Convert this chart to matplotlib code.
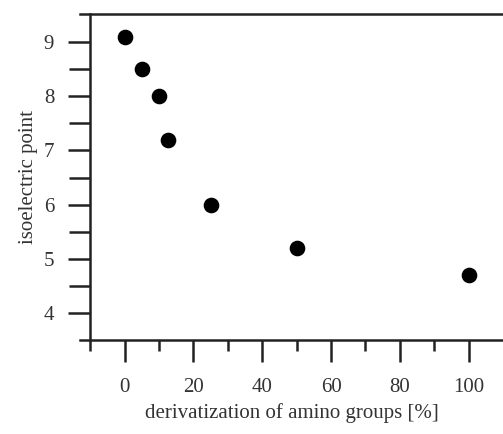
import numpy as np
import matplotlib.pyplot as plt
from matplotlib.ticker import MultipleLocator

plt.rcParams['font.family'] = ['Liberation Serif', 'DejaVu Serif']

derivatization = [0, 5, 10, 12.5, 25, 50, 100]
pi_values = [9.1, 8.5, 8.0, 7.2, 6.0, 5.2, 4.7]

fig = plt.figure(figsize=(5.03, 4.34), dpi=100)
ax = fig.add_axes([80 / 503, 94 / 434, 423 / 503, 326 / 434])

ax.scatter(derivatization, pi_values, s=105, color='black', zorder=3)

ax.set_xlim(-13, 110)
ax.set_ylim(3.5, 9.52)
ax.spines['left'].set_position(('data', -10))
ax.spines['right'].set_visible(False)
for s in ['left', 'top', 'bottom']:
    ax.spines[s].set_linewidth(1.8)
    ax.spines[s].set_color('#222222')

ax.set_yticks([4, 5, 6, 7, 8, 9])
ax.set_xticks([0, 20, 40, 60, 80, 100])
ax.set_yticks([4.5, 5.5, 6.5, 7.5, 8.5], minor=True)
ax.set_xticks([-10, 10, 30, 50, 70, 90], minor=True)

ax.tick_params(axis='x', which='major', direction='out', length=16, width=1.8,
               pad=11, labelsize=15, colors='#222222', labelcolor='#333333')
ax.tick_params(axis='x', which='minor', direction='out', length=8, width=1.8,
               colors='#222222')
ax.tick_params(axis='y', which='major', direction='out', length=16, width=1.8,
               pad=10, labelsize=15, colors='#222222', labelcolor='#333333')
ax.tick_params(axis='y', which='minor', direction='out', length=15, width=1.8,
               colors='#222222')

ax.set_xlabel('derivatization of amino groups [%]', fontsize=15, color='#333333', labelpad=5)
ax.set_ylabel('isoelectric point', fontsize=15, color='#333333', labelpad=4)

fig.savefig('out.png', dpi=100)
